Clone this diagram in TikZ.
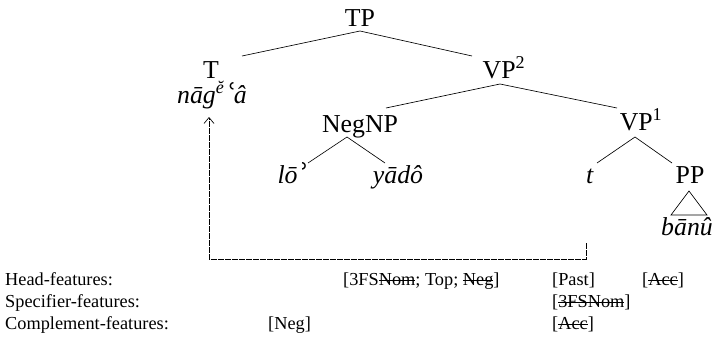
\documentclass[tikz,border=0pt]{standalone}
\usepackage{fontspec}
\usepackage{graphicx}
\setmainfont{Liberation Serif}
\usetikzlibrary{arrows.meta}
\newcommand\strk[1]{\leavevmode\setbox0\hbox{#1}\rlap{\rule[0.25em]{\wd0}{0.6pt}}\box0}
\newcommand\ayn{\kern-0.05em\raisebox{-0.3em}{\scalebox{1.5}{ʿ}}\kern-0.08em}
\newcommand\alp{\kern-0.08em\raisebox{-0.3em}{\scalebox{1.5}{ʾ}}}
\begin{document}
\begin{tikzpicture}[x=1pt,y=-1pt,
  lbl/.style={inner sep=0pt,anchor=base,font=\fontsize{25.8}{31}\selectfont},
  feat/.style={inner sep=0pt,anchor=base west,font=\fontsize{18.3}{22}\selectfont},
  edge/.style={line width=0.65pt},
  mv/.style={line width=0.65pt,dash pattern=on 6pt off 1pt,-{Straight Barb[length=6pt,width=10pt,line width=0.65pt]}}]
\useasboundingbox (0,0) rectangle (715,337);
% tree nodes
\node[lbl] (TP) at (360,27) {TP};
\node[lbl] (T) at (211,78) {T};
\node[lbl] (nag) at (212,103) {\textit{nāg\textsuperscript{ĕ}\ayn â}};
\node[lbl] (VPb) at (504,78) {VP\textsuperscript{2}};
\node[lbl] (NegNP) at (360,132) {NegNP};
\node[lbl] (VPa) at (641,130) {VP\textsuperscript{1}};
\node[lbl] (lo) at (293,183) {\textit{lō\alp}};
\node[lbl] (yado) at (398,183) {\textit{yādô}};
\node[lbl] (t) at (590,183) {\textit{t}};
\node[lbl] (PP) at (690,183) {PP};
\node[lbl] (banu) at (687,235) {\textit{bānû}};
% branches
\draw[edge] ([yshift=-4pt]TP.base) -- ([shift={(31pt,22pt)}]T.base);
\draw[edge] ([yshift=-4pt]TP.base) -- ([shift={(-32pt,22pt)}]VPb.base);
\draw[edge] ([shift={(-4pt,-6pt)}]VPb.base) -- ([shift={(26pt,24pt)}]NegNP.base);
\draw[edge] ([shift={(-4pt,-6pt)}]VPb.base) -- ([shift={(-24pt,22pt)}]VPa.base);
\draw[edge] ([shift={(-13pt,-5pt)}]NegNP.base) -- ([shift={(15pt,20pt)}]lo.base);
\draw[edge] ([shift={(-13pt,-5pt)}]NegNP.base) -- ([shift={(-13pt,20pt)}]yado.base);
\draw[edge] ([shift={(-6pt,-7pt)}]VPa.base) -- ([shift={(7pt,20pt)}]t.base);
\draw[edge] ([shift={(-6pt,-7pt)}]VPa.base) -- ([shift={(-18pt,20pt)}]PP.base);
\draw[edge] ([shift={(-1pt,-8pt)}]PP.base) -- ([shift={(-16pt,20pt)}]banu.base)
  -- ([shift={(20pt,20pt)}]banu.base) -- cycle;
% movement
\draw[mv] ([shift={(-4pt,-60pt)}]t.base) -- ([shift={(-4pt,-76pt)}]t.base)
  -| ([shift={(-3pt,-14pt)}]nag.base);
% features
\node[feat] (hf) at (5,285) {Head-features:};
\node[feat] (sf) at (5,307) {Specifier-features:};
\node[feat] (cf) at (5,329) {Complement-features:};
\node[feat] (h1) at (343,285) {[3FS\strk{Nom}; Top; \strk{Neg}]};
\node[feat] (h2) at (552,285) {[Past]};
\node[feat] (h3) at (642,285) {[\strk{Acc}]};
\node[feat] (s2) at (552,307) {[\strk{3FSNom}]};
\node[feat] (c1) at (268,329) {[Neg]};
\node[feat] (c2) at (552,329) {[\strk{Acc}]};
\end{tikzpicture}
\end{document}
